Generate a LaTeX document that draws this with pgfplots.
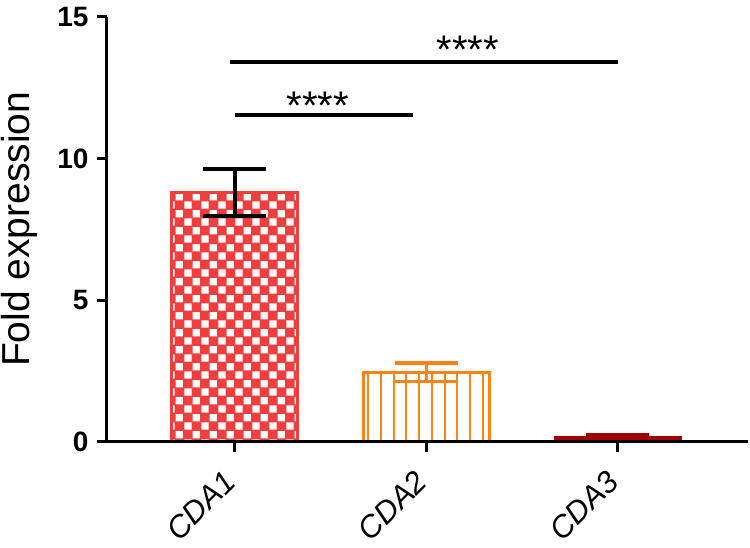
\documentclass[border=0pt]{standalone}
\usepackage{fontspec}
\setmainfont{Liberation Sans}
\usepackage{pgfplots}
\pgfplotsset{compat=1.18}
\usetikzlibrary{patterns,patterns.meta}
\definecolor{cdared}{RGB}{240,62,62}
\definecolor{cdaorange}{RGB}{255,130,20}
\definecolor{cdadark}{RGB}{160,0,0}
\pgfdeclarepatternformonly{bigchecker}{\pgfpointorigin}{\pgfqpoint{16.7pt}{16.7pt}}{\pgfqpoint{16.7pt}{16.7pt}}{%
 \pgfpathrectangle{\pgfqpoint{0.5pt}{0.5pt}}{\pgfqpoint{7.35pt}{7.35pt}}%
 \pgfpathrectangle{\pgfqpoint{8.85pt}{8.85pt}}{\pgfqpoint{7.35pt}{7.35pt}}%
 \pgfusepath{fill}}
\begin{document}
\begin{tikzpicture}
\begin{axis}[
 at={(107pt,105.3pt)}, anchor=south west,
 scale only axis, width=641pt, height=425pt,
 xmin=-0.668, xmax=2.679, ymin=0, ymax=15,
 axis x line=bottom, axis y line=left,
 axis line style={line width=3pt, -},
 xtick={0,1,2}, xticklabels={CDA1,CDA2,CDA3},
 ytick={0,5,10,15},
 tick align=outside, major tick length=10pt,
 tick style={line width=3pt, black},
 /pgf/number format/assume math mode=true,
 yticklabel style={font=\bfseries\fontsize{28}{30}\selectfont, xshift=-5pt},
 xticklabel style={font=\itshape\fontsize{31}{33}\selectfont, rotate=45, anchor=east, yshift=-14pt, xshift=-17.5pt},
 ylabel={Fold expression},
 ylabel style={font=\fontsize{39}{41}\selectfont, at={(axis description cs:-0.136,0.5)}, anchor=center},
 clip=false, axis on top,
]
\addplot[ybar, bar width=0.658, bar shift=0pt, draw=cdared, line width=3pt, fill=cdared,
  postaction={pattern=bigchecker, pattern color=white},
  error bars/.cd, y dir=both, y explicit,
  error bar style={black, line width=3.5pt},
  error mark options={black, line width=3.5pt, mark size=31.5pt, rotate=90}]
  coordinates {(0,8.8) +- (0,0.83)};
\addplot[ybar, bar width=0.658, bar shift=0pt, draw=cdaorange, line width=3pt, fill=white,
  postaction={pattern={Lines[angle=90,distance=12.7pt,line width=2pt]}, pattern color=cdaorange},
  error bars/.cd, y dir=both, y explicit,
  error bar style={cdaorange, line width=3.5pt},
  error mark options={cdaorange, line width=3.5pt, mark size=31.5pt, rotate=90}]
  coordinates {(1,2.45) +- (0,0.33)};
\addplot[ybar, bar width=0.658, bar shift=0pt, draw=cdadark, line width=2pt, fill=cdadark,
  error bars/.cd, y dir=plus, y explicit,
  error bar style={cdadark, line width=3pt},
  error mark options={cdadark, line width=3pt, mark size=31.5pt, rotate=90}]
  coordinates {(2,0.15) +- (0,0.12)};
\addplot[black, line width=4pt, sharp plot, no marks] coordinates {(0,11.53) (0.93,11.53)};
\addplot[black, line width=4pt, sharp plot, no marks] coordinates {(-0.026,13.41) (2.0,13.41)};
\node[font=\fontsize{40}{42}\selectfont] at (axis cs:0.433,11.85) {****};
\node[font=\fontsize{40}{42}\selectfont] at (axis cs:1.217,13.85) {****};
\end{axis}
\pgfresetboundingbox
\path[use as bounding box] (0,0) rectangle (750pt,547pt);
\end{tikzpicture}
\end{document}
